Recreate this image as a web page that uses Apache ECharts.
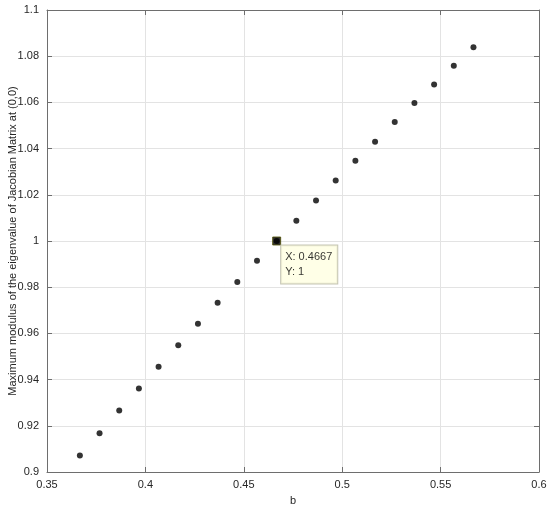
<!DOCTYPE html>
<html>
<head>
<meta charset="utf-8">
<script src="https://cdn.jsdelivr.net/npm/echarts@6/dist/echarts.min.js"></script>
<style>
  html, body { margin: 0; padding: 0; background: #fff; }
  #chart { width: 550px; height: 508px; }
</style>
</head>
<body>
<div id="chart"></div>
<script>
// values
const bValues = [0.3667, 0.3767, 0.3867, 0.3967, 0.4067, 0.4167, 0.4267, 0.4367, 0.4467, 0.4567,
  0.4667, 0.4767, 0.4867, 0.4967, 0.5067, 0.5167, 0.5267, 0.5367, 0.5467, 0.5567, 0.5667];
const modulusValues = [0.9071, 0.9168, 0.9266, 0.9362, 0.9456, 0.9549, 0.9642, 0.9733, 0.9823, 0.9914,
  1.0, 1.0088, 1.0175, 1.0262, 1.0347, 1.0430, 1.0515, 1.0597, 1.0678, 1.0759, 1.0839];
const tipX = 0.4667;
const tipY = 1;

const points = bValues.map((b, i) => [b, modulusValues[i]]);
const fmt = v => String(+v.toFixed(2));
const textColor = '#262626';
const lineColor = '#6e6e6e';
const font = 'Liberation Sans, Arial, Helvetica, sans-serif';

const chart = echarts.init(document.getElementById('chart'));

const baseX = {
  type: 'value', min: 0.35, max: 0.6, interval: 0.05,
  axisLine: { show: true, onZero: false, lineStyle: { color: lineColor, width: 1 } },
  axisTick: { show: true, inside: true, length: 5, lineStyle: { color: lineColor } }
};
const baseY = {
  type: 'value', min: 0.9, max: 1.1, interval: 0.02,
  axisLine: { show: true, onZero: false, lineStyle: { color: lineColor, width: 1 } },
  axisTick: { show: true, inside: true, length: 5, lineStyle: { color: lineColor } }
};

chart.setOption({
  animation: false,
  backgroundColor: '#fff',
  grid: { left: 47, right: 11, top: 10, bottom: 36, containLabel: false, outerBoundsMode: 'none' },
  xAxis: [
    Object.assign({}, baseX, {
      position: 'bottom',
      name: 'b', nameLocation: 'middle', nameGap: 23, nameMoveOverlap: false,
      nameTextStyle: { color: textColor, fontSize: 11, fontFamily: font },
      axisLabel: { color: textColor, fontSize: 11, fontFamily: font, margin: 7, formatter: fmt },
      splitLine: { show: true, lineStyle: { color: '#e3e3e3' } }
    }),
    Object.assign({}, baseX, {
      position: 'top', axisLabel: { show: false }, splitLine: { show: false }
    })
  ],
  yAxis: [
    Object.assign({}, baseY, {
      position: 'left',
      name: 'Maximum modulus of the eigenvalue of Jacobian Matrix at (0,0)',
      nameLocation: 'middle', nameGap: 29, nameMoveOverlap: false,
      nameTextStyle: { color: textColor, fontSize: 11, fontFamily: font },
      axisLabel: { color: textColor, fontSize: 11, fontFamily: font, margin: 8, formatter: fmt },
      splitLine: { show: true, lineStyle: { color: '#e3e3e3' } }
    }),
    Object.assign({}, baseY, {
      position: 'right', axisLabel: { show: false }, splitLine: { show: false }
    })
  ],
  series: [
    {
      type: 'scatter',
      data: points,
      symbol: 'circle',
      symbolSize: 6,
      itemStyle: { color: '#000' }
    },
    {
      // data tip
      type: 'scatter',
      data: [[tipX, tipY]],
      symbol: 'rect',
      symbolSize: 8,
      itemStyle: { color: '#000', borderColor: '#4d4d00', borderWidth: 1 },
      z: 5,
      label: {
        show: true,
        position: [9, 9],
        formatter: 'X: ' + tipX + '\nY: ' + tipY,
        color: '#000',
        fontSize: 11,
        fontFamily: font,
        lineHeight: 15,
        align: 'left',
        verticalAlign: 'top',
        backgroundColor: '#ffffe1',
        borderColor: '#b5b5a0',
        borderWidth: 1,
        padding: [4, 5, 4, 4]
      }
    }
  ]
});
</script>
</body>
</html>
